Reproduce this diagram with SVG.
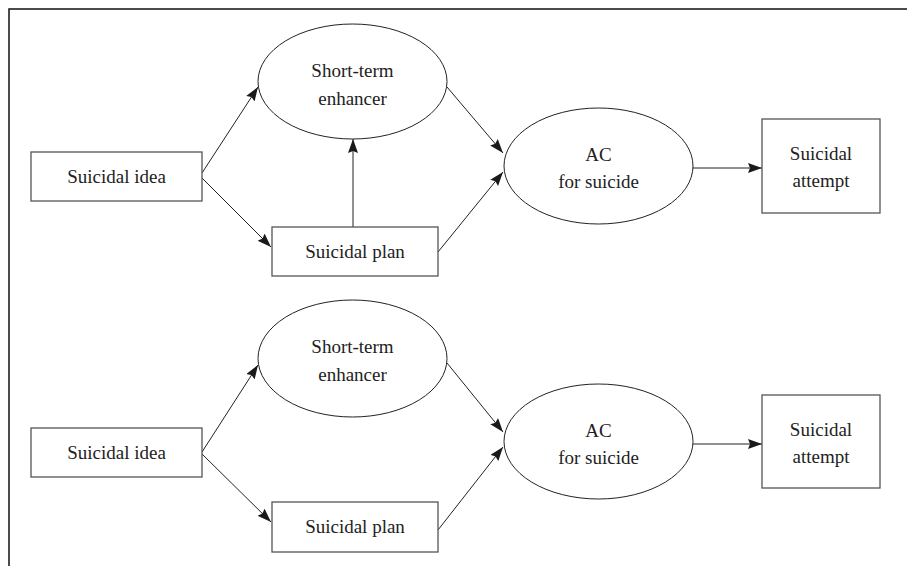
<svg xmlns="http://www.w3.org/2000/svg" width="907" height="566" viewBox="0 0 907 566">
<defs>
<marker id="ah" markerWidth="15" markerHeight="11" refX="14" refY="5" orient="auto" markerUnits="userSpaceOnUse">
<path d="M0,0 L14,5 L0,10 L2,5 Z" fill="#1a1a1a"/>
</marker>
<style>
.box{fill:#fff;stroke:#555;stroke-width:1.3}
.ell{fill:#fff;stroke:#222;stroke-width:1}
.t{font-family:"Liberation Serif","Times New Roman",serif;font-size:19px;fill:#222;text-anchor:middle}
.c{stroke:#222;stroke-width:1;fill:none;marker-end:url(#ah)}
.frame{stroke:#111;stroke-width:1.5;fill:none}
</style>
</defs>
<rect width="907" height="566" fill="#fff"/>
<path class="frame" d="M907,9 L9,9 L9,566"/>
<g id="connectors">
<line class="c" x1="202" y1="173" x2="258" y2="87"/>
<line class="c" x1="202" y1="178" x2="271" y2="247"/>
<line class="c" x1="353" y1="227" x2="353" y2="139"/>
<line class="c" x1="447" y1="87" x2="503" y2="153"/>
<line class="c" x1="438" y1="252" x2="503" y2="172"/>
<line class="c" x1="693" y1="168" x2="762" y2="168"/>
<line class="c" x1="202" y1="452" x2="258" y2="365"/>
<line class="c" x1="202" y1="454" x2="271" y2="522"/>
<line class="c" x1="447" y1="363" x2="503" y2="432"/>
<line class="c" x1="438" y1="530" x2="503" y2="447"/>
<line class="c" x1="693" y1="444" x2="762" y2="444"/>
</g>
<g id="idea1"><rect class="box" x="31" y="152" width="171" height="49"/><text class="t" x="116.5" y="183">Suicidal idea</text></g>
<g id="plan1"><rect class="box" x="272" y="227" width="166" height="49"/><text class="t" x="355" y="258">Suicidal plan</text></g>
<g id="enh1"><ellipse class="ell" cx="352.5" cy="81.5" rx="94.5" ry="57.5"/><text class="t" x="352.5" y="77">Short-term</text><text class="t" x="352.5" y="105">enhancer</text></g>
<g id="ac1"><ellipse class="ell" cx="598.5" cy="166" rx="94.5" ry="58"/><text class="t" x="598.5" y="161">AC</text><text class="t" x="598.5" y="188">for suicide</text></g>
<g id="att1"><rect class="box" x="762" y="119" width="118" height="94"/><text class="t" x="821" y="160">Suicidal</text><text class="t" x="821" y="187">attempt</text></g>
<g id="idea2"><rect class="box" x="31" y="428" width="171" height="49"/><text class="t" x="116.5" y="459">Suicidal idea</text></g>
<g id="plan2"><rect class="box" x="272" y="502" width="166" height="50"/><text class="t" x="355" y="533">Suicidal plan</text></g>
<g id="enh2"><ellipse class="ell" cx="352.5" cy="358.5" rx="94.5" ry="58.5"/><text class="t" x="352.5" y="353">Short-term</text><text class="t" x="352.5" y="381">enhancer</text></g>
<g id="ac2"><ellipse class="ell" cx="598.5" cy="441.5" rx="94.5" ry="57.5"/><text class="t" x="598.5" y="437">AC</text><text class="t" x="598.5" y="464">for suicide</text></g>
<g id="att2"><rect class="box" x="762" y="395" width="118" height="93"/><text class="t" x="821" y="436">Suicidal</text><text class="t" x="821" y="463">attempt</text></g>
</svg>
